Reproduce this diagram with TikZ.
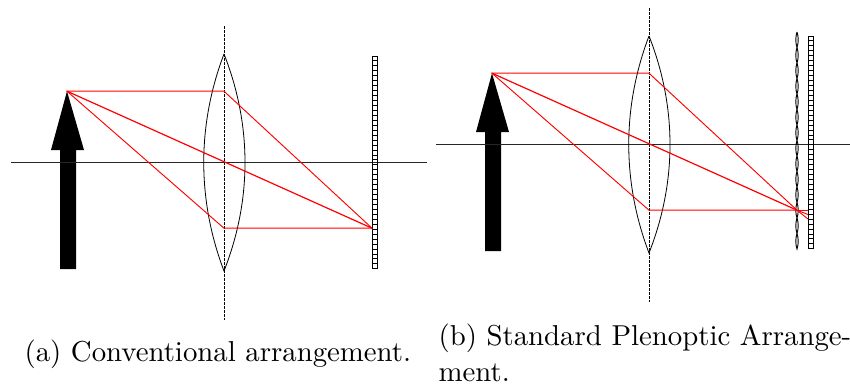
\documentclass[tikz,border=0pt]{standalone}
\usetikzlibrary{calc}
\tikzset{
  optic/.style={draw=black,line width=0.6pt},
  axisline/.style={draw=black!85,line width=0.65pt},
  centreline/.style={draw=black,line width=0.6pt,dash pattern=on 2pt off 1pt},
  ray/.style={draw=red,line width=0.7pt},
  mainray/.style={draw=red,line width=0.9pt},
  cell/.style={draw=black,line width=0.75pt},
  captext/.style={inner sep=0pt,anchor=base west,scale=2.16},
}
\newcommand{\opticsetup}[4]{%
  \begin{scope}[shift={(#1,#2)}]
  \coordinate (tip) at (67,91.2);
  \fill[black] (60,269) -- (60,150) -- (51,150) -- (tip) -- (84,150) -- (76,150) -- (76,269) -- cycle;
  \draw[axisline] (11,162) -- (427,162);
  \draw[centreline] (224,26) -- (224,320);
  \draw[optic] (224,54) .. controls (197,125) and (197,200) .. (224,271)
               .. controls (252,200) and (252,125) .. (224,54);
  \foreach \i in {0,...,42}{
    \draw[cell] ({372+#3},{56+#4+\i*4.95}) rectangle ({377+#3},{56+#4+(\i+1)*4.95});
  }
  \end{scope}}
\begin{document}
\begin{tikzpicture}[x=0.75pt,y=-0.75pt]
\useasboundingbox (0,0) rectangle (850,386);
\fill[white] (0,0) rectangle (850,386);
% left
\opticsetup{0}{0}{0}{0}
\coordinate (ta) at (67,91.2);
\coordinate (la) at (224,91.2);
\coordinate (lb) at (224,228.2);
\coordinate (fa) at (372,228.2);
\draw[ray] (ta) -- (la) -- (fa) -- (lb) -- cycle;
\draw[mainray] (ta) -- (fa);
% right
\opticsetup{425}{-18}{11}{-2}
\foreach \i in {0,...,13}{
  \draw[optic,line width=0.7pt] (797,{32+\i*15.5}) .. controls (795.4,{32+(\i+.3)*15.5}) and (795.4,{32+(\i+.7)*15.5}) .. (797,{32+(\i+1)*15.5})
     .. controls (798.6,{32+(\i+.7)*15.5}) and (798.6,{32+(\i+.3)*15.5}) .. (797,{32+\i*15.5});
}
\coordinate (tb) at (492,73.2);
\coordinate (lc) at (649,73.2);
\coordinate (ld) at (649,210.2);
\coordinate (fb) at (797,210.2);
\coordinate (ga) at (808,210.2);
\coordinate (gb) at (808,214.5);
\coordinate (gc) at (808,219);
\draw[ray] (tb) -- (lc) -- (fb) -- (ld) -- cycle;
\draw[mainray] (tb) -- (fb);
\draw[ray] (fb) -- (ga);
\draw[ray] (fb) -- (gb);
\draw[ray] (fb) -- (gc);
% captions
\node[captext] (ca) at (24,361) {(a) Conventional arrangement.};
\node[captext] (cb1) at (438,345) {(b) Standard Plenoptic Arrange-};
\node[captext] (cb2) at (438,381) {ment.};
\end{tikzpicture}
\end{document}
